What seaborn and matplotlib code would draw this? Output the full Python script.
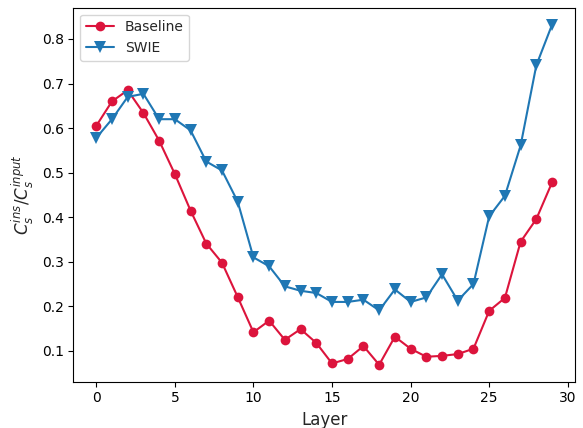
import pandas as pd
import seaborn as sns
import matplotlib.pyplot as plt

# Values
layers = list(range(30))
baseline = [0.605, 0.660, 0.685, 0.634, 0.572, 0.497, 0.415, 0.341, 0.298, 0.221,
            0.142, 0.168, 0.125, 0.149, 0.118, 0.072, 0.082, 0.111, 0.069, 0.132,
            0.105, 0.087, 0.089, 0.093, 0.105, 0.190, 0.219, 0.345, 0.396, 0.478]
swie = [0.578, 0.620, 0.670, 0.677, 0.620, 0.620, 0.595, 0.525, 0.505, 0.435,
        0.310, 0.290, 0.245, 0.235, 0.230, 0.210, 0.210, 0.215, 0.191, 0.238,
        0.210, 0.220, 0.272, 0.213, 0.250, 0.402, 0.448, 0.561, 0.741, 0.832]

df = pd.DataFrame({"Layer": layers, "Baseline": baseline, "SWIE": swie})

sns.set_style("ticks")
plt.rcParams['font.family'] = ['DejaVu Sans']

fig, ax = plt.subplots(figsize=(5.83, 4.28), dpi=100)
fig.subplots_adjust(left=0.126, right=0.986, bottom=0.108, top=0.982)

sns.lineplot(data=df, x="Layer", y="Baseline", color="crimson", marker="o",
             markersize=7, markeredgewidth=0, linewidth=1.5, label="Baseline", ax=ax)
sns.lineplot(data=df, x="Layer", y="SWIE", color="#1f77b4", marker="v",
             markersize=8, markeredgewidth=0, linewidth=1.5, label="SWIE", ax=ax)

ax.set_xlabel("Layer", fontsize=12)
ax.set_ylabel(r"$C_s^{ins}/C_s^{input}$", fontsize=12)
ax.set_xticks([0, 5, 10, 15, 20, 25, 30])
for s in ax.spines.values():
    s.set_visible(True)
    s.set_color("black")
    s.set_linewidth(0.8)
ax.tick_params(colors="black", labelsize=10, length=3.5, width=0.8)
ax.legend(loc="upper left", fontsize=10)

plt.savefig("out.png", dpi=100)
